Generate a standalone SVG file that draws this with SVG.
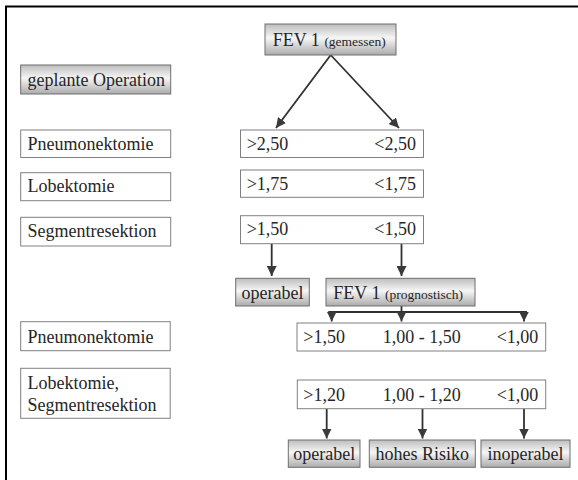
<svg xmlns="http://www.w3.org/2000/svg" width="578" height="480" viewBox="0 0 578 480">
<defs>
<linearGradient id="shade" x1="0" y1="0" x2="0" y2="1">
<stop offset="0" stop-color="#bdbdbd"/>
<stop offset="0.45" stop-color="#f6f6f6"/>
<stop offset="1" stop-color="#ababab"/>
</linearGradient>
<marker id="ah" viewBox="0 0 10 10" refX="10" refY="5" markerWidth="10" markerHeight="10" markerUnits="userSpaceOnUse" orient="auto">
<path d="M0,0 L10,5 L0,10 z" fill="#3a3a3a"/>
</marker>
<style>
.t{font-family:"Liberation Serif","Times New Roman",serif;font-size:18px;fill:#262626}
.s{font-size:13.5px}
.box{fill:#ffffff;stroke:#808080;stroke-width:1}
.sh{fill:url(#shade);stroke:#6e6e6e;stroke-width:1}
.c{fill:none;stroke:#303030;stroke-width:1.8}
.m{text-anchor:middle}
.e{text-anchor:end}
</style>
</defs>
<rect width="578" height="480" fill="#ffffff"/>
<path d="M6,480 V6.5 H578" fill="none" stroke="#000" stroke-width="2"/>

<g id="connectors">
<line class="c" x1="330.7" y1="55" x2="276" y2="128" marker-end="url(#ah)"/>
<line class="c" x1="330.7" y1="55" x2="399" y2="128" marker-end="url(#ah)"/>
<line class="c" x1="271.7" y1="243.7" x2="271.7" y2="276" marker-end="url(#ah)"/>
<line class="c" x1="401.5" y1="243.7" x2="401.5" y2="276" marker-end="url(#ah)"/>
<line class="c" x1="401.5" y1="306" x2="401.5" y2="312"/>
<line class="c" x1="328.3" y1="312" x2="527" y2="312"/>
<line class="c" x1="331.7" y1="312" x2="331.7" y2="321.5" marker-end="url(#ah)"/>
<line class="c" x1="401.5" y1="312" x2="401.5" y2="321.5" marker-end="url(#ah)"/>
<line class="c" x1="524" y1="312" x2="524" y2="321.5" marker-end="url(#ah)"/>
<line class="c" x1="326.7" y1="408.7" x2="326.7" y2="438.5" marker-end="url(#ah)"/>
<line class="c" x1="422.5" y1="408.7" x2="422.5" y2="438.5" marker-end="url(#ah)"/>
<line class="c" x1="524" y1="408.7" x2="524" y2="438.5" marker-end="url(#ah)"/>
</g>

<g id="fev1-gemessen">
<rect class="sh" x="265" y="24" width="131" height="31"/>
<text class="t" x="272.7" y="45.5">FEV 1 <tspan class="s">(gemessen)</tspan></text>
</g>
<g id="geplante-operation">
<rect class="sh" x="20.7" y="65" width="150" height="29"/>
<text class="t" x="27.5" y="86">geplante Operation</text>
</g>
<g id="pneumonektomie-1">
<rect class="box" x="20.7" y="130" width="150" height="27.5"/>
<text class="t" x="27.5" y="150">Pneumonektomie</text>
</g>
<g id="lobektomie-1">
<rect class="box" x="20.7" y="172.7" width="150" height="28"/>
<text class="t" x="27.5" y="192">Lobektomie</text>
</g>
<g id="segmentresektion-1">
<rect class="box" x="20.7" y="217.3" width="150" height="28.7"/>
<text class="t" x="27.5" y="237">Segmentresektion</text>
</g>
<g id="werte-250">
<rect class="box" x="240.5" y="130" width="183" height="27.5"/>
<text class="t" x="246.7" y="150">&gt;2,50</text>
<text class="t e" x="416" y="150">&lt;2,50</text>
</g>
<g id="werte-175">
<rect class="box" x="240.5" y="170" width="183" height="27.3"/>
<text class="t" x="246.7" y="190">&gt;1,75</text>
<text class="t e" x="416" y="190">&lt;1,75</text>
</g>
<g id="werte-150">
<rect class="box" x="240.5" y="215.7" width="183" height="28"/>
<text class="t" x="246.7" y="235">&gt;1,50</text>
<text class="t e" x="416" y="235">&lt;1,50</text>
</g>
<g id="operabel-1">
<rect class="sh" x="235.7" y="278.3" width="73.6" height="27.7"/>
<text class="t m" x="272.5" y="298.5">operabel</text>
</g>
<g id="fev1-prognostisch">
<rect class="sh" x="326" y="278.3" width="149" height="27.7"/>
<text class="t" x="333.3" y="298.5">FEV 1 <tspan class="s">(prognostisch)</tspan></text>
</g>
<g id="pneumonektomie-2">
<rect class="box" x="20.7" y="321.7" width="149.5" height="29"/>
<text class="t" x="27.5" y="343">Pneumonektomie</text>
</g>
<g id="lobektomie-segmentresektion">
<rect class="box" x="20.7" y="368.3" width="149.5" height="50"/>
<text class="t" x="27.5" y="389.3">Lobektomie,</text>
<text class="t" x="27.5" y="410.5">Segmentresektion</text>
</g>
<g id="werte-prog-150">
<rect class="box" x="297" y="323" width="248.7" height="28"/>
<text class="t" x="303.3" y="343.3">&gt;1,50</text>
<text class="t" x="382.7" y="343.3">1,00 - 1,50</text>
<text class="t e" x="538.3" y="343.3">&lt;1,00</text>
</g>
<g id="werte-prog-120">
<rect class="box" x="297.3" y="380" width="248.4" height="28.7"/>
<text class="t" x="303.3" y="401">&gt;1,20</text>
<text class="t" x="382.7" y="401">1,00 - 1,20</text>
<text class="t e" x="538.3" y="401">&lt;1,00</text>
</g>
<g id="operabel-2">
<rect class="sh" x="288.3" y="440" width="71.7" height="27.3"/>
<text class="t m" x="324.2" y="460">operabel</text>
</g>
<g id="hohes-risiko">
<rect class="sh" x="369.3" y="440" width="106" height="27.3"/>
<text class="t m" x="422.3" y="460">hohes Risiko</text>
</g>
<g id="inoperabel">
<rect class="sh" x="481" y="440" width="89" height="27.3"/>
<text class="t m" x="525.5" y="460">inoperabel</text>
</g>
</svg>
